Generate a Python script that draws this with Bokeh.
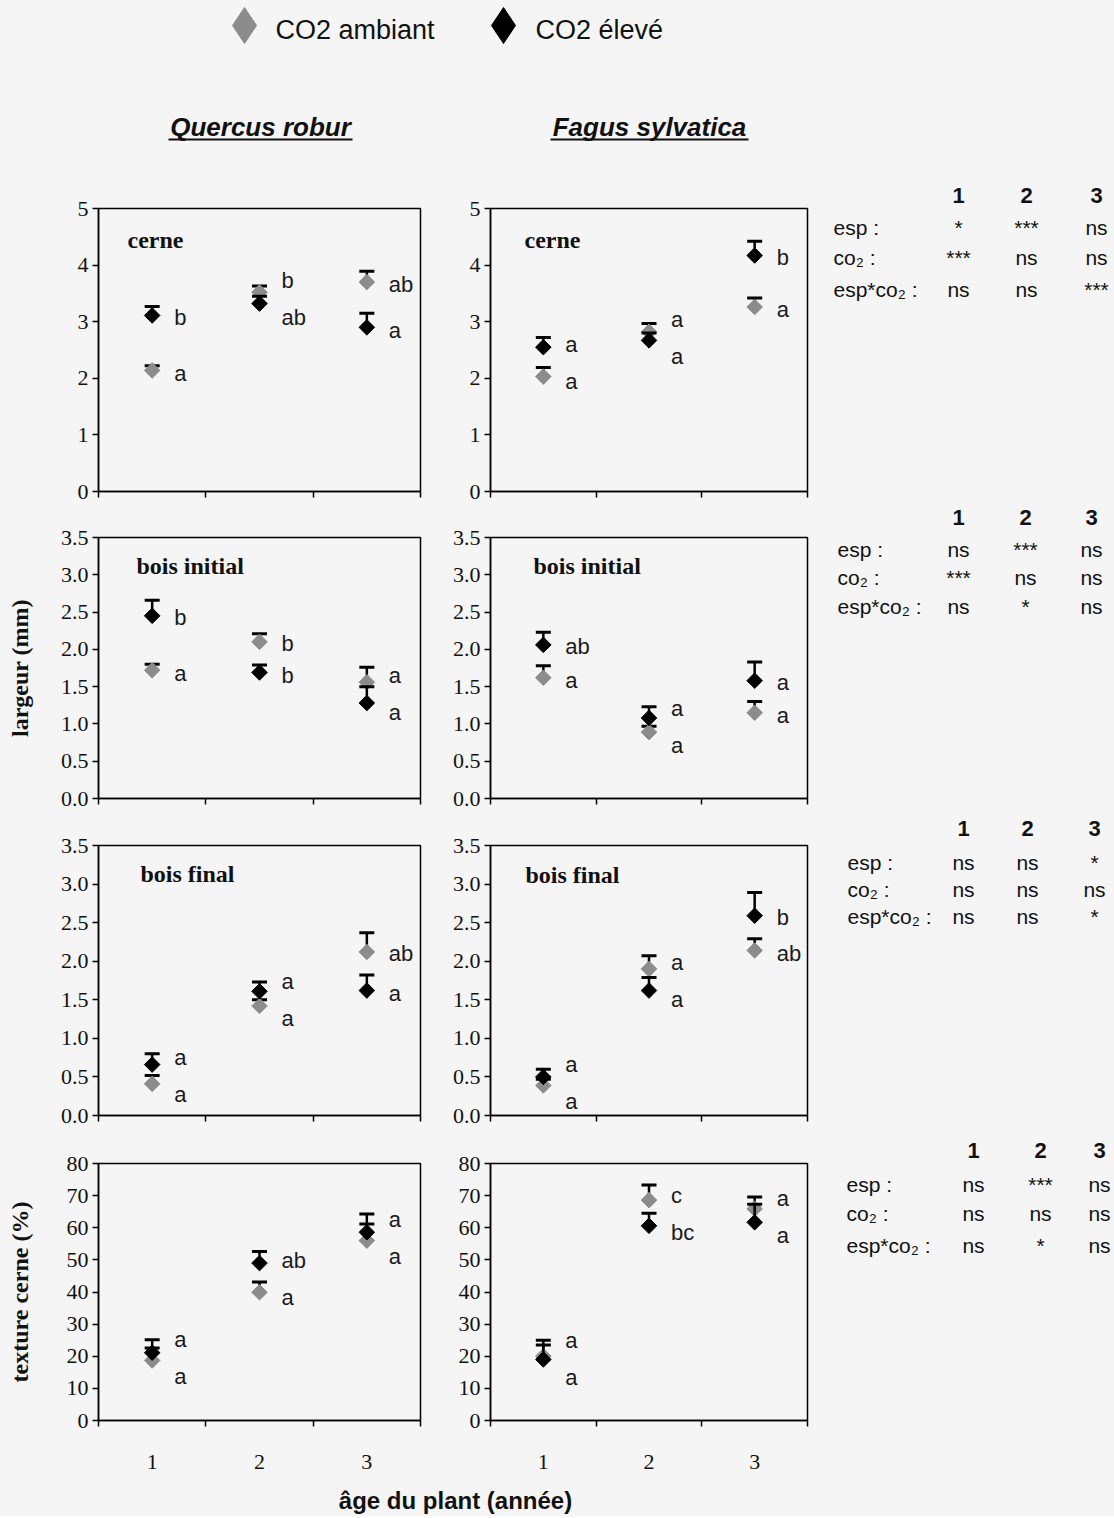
import numpy as np
from bokeh.plotting import figure
from bokeh.models import Range1d, FixedTicker, Label, ColumnDataSource, PrintfTickFormatter
from bokeh.layouts import row, column
from bokeh.embed import file_html
from bokeh.resources import INLINE
from bokeh.core.properties import value

# ---------------- data ----------------
years = [1, 2, 3]
year_labels = ["1", "2", "3"]

# Quercus robur - cerne
q_cerne_amb = [2.14, 3.52, 3.70]
q_cerne_amb_err = [0.08, 0.11, 0.19]
q_cerne_ele = [3.11, 3.32, 2.90]
q_cerne_ele_err = [0.16, 0.13, 0.25]
q_cerne_amb_let = ["a", "b", "ab"]
q_cerne_ele_let = ["b", "ab", "a"]

# Fagus sylvatica - cerne
f_cerne_amb = [2.03, 2.82, 3.26]
f_cerne_amb_err = [0.16, 0.15, 0.16]
f_cerne_ele = [2.55, 2.67, 4.17]
f_cerne_ele_err = [0.17, 0.13, 0.25]
f_cerne_amb_let = ["a", "a", "a"]
f_cerne_ele_let = ["a", "a", "b"]

# bois initial
q_init_amb = [1.72, 2.10, 1.56]
q_init_amb_err = [0.08, 0.11, 0.20]
q_init_ele = [2.45, 1.69, 1.28]
q_init_ele_err = [0.21, 0.10, 0.22]
q_init_amb_let = ["a", "b", "a"]
q_init_ele_let = ["b", "b", "a"]

f_init_amb = [1.62, 0.89, 1.15]
f_init_amb_err = [0.16, 0.08, 0.15]
f_init_ele = [2.06, 1.08, 1.58]
f_init_ele_err = [0.17, 0.15, 0.25]
f_init_amb_let = ["a", "a", "a"]
f_init_ele_let = ["ab", "a", "a"]

# bois final
q_final_amb = [0.41, 1.42, 2.12]
q_final_amb_err = [0.11, 0.08, 0.25]
q_final_ele = [0.66, 1.61, 1.62]
q_final_ele_err = [0.14, 0.12, 0.20]
q_final_amb_let = ["a", "a", "ab"]
q_final_ele_let = ["a", "a", "a"]

f_final_amb = [0.39, 1.90, 2.14]
f_final_amb_err = [0.08, 0.17, 0.15]
f_final_ele = [0.50, 1.62, 2.59]
f_final_ele_err = [0.10, 0.17, 0.30]
f_final_amb_let = ["a", "a", "ab"]
f_final_ele_let = ["a", "a", "b"]

# texture cerne (%)
q_text_amb = [18.7, 39.9, 56.0]
q_text_amb_err = [3.9, 3.2, 5.2]
q_text_ele = [21.1, 49.0, 58.6]
q_text_ele_err = [4.0, 3.6, 5.7]
q_text_amb_let = ["a", "a", "a"]
q_text_ele_let = ["a", "ab", "a"]

f_text_amb = [20.0, 68.6, 65.9]
f_text_amb_err = [3.5, 4.7, 3.7]
f_text_ele = [19.0, 60.6, 61.7]
f_text_ele_err = [6.0, 3.9, 5.6]
f_text_amb_let = ["a", "c", "a"]
f_text_ele_let = ["a", "bc", "a"]

# statistics tables
stat_cols = ["1", "2", "3"]
stat_rows = ["esp :", "co\u2082 :", "esp*co\u2082 :"]
sig_cerne = [["*", "***", "ns"], ["***", "ns", "ns"], ["ns", "ns", "***"]]
sig_init = [["ns", "***", "ns"], ["***", "ns", "ns"], ["ns", "*", "ns"]]
sig_final = [["ns", "ns", "*"], ["ns", "ns", "ns"], ["ns", "ns", "*"]]
sig_text = [["ns", "***", "ns"], ["ns", "ns", "ns"], ["ns", "*", "ns"]]

legend_labels = ["CO2 ambiant", "CO2 \u00e9lev\u00e9"]
species = ["Quercus robur", "Fagus sylvatica"]

# ---------------- style ----------------
BG = "#f5f5f5"
GRAY = "#8c8c8c"
BLACK = "#000000"
SERIF = "Liberation Serif"
SANS = "Liberation Sans"

QW, QL, QR = 430, 98, 10
FW, FL, FR = 390, 60, 13


def panel(width, left, right, height, top, bottom, ymax, yticks, fmt, title,
          title_dx, title_dy, amb, amb_err, ele, ele_err, amb_let, ele_let,
          xlabels=False, ylabel=None, ylabel_standoff=28):
    fw = width - left - right
    fh = height - top - bottom
    p = figure(width=width, height=height, x_range=Range1d(0.5, 3.5),
               y_range=Range1d(0, ymax), output_backend="svg",
               toolbar_location=None, title=None,
               min_border_left=left, min_border_right=right,
               min_border_top=top, min_border_bottom=bottom,
               background_fill_color=BG, border_fill_color=BG,
               outline_line_color="black", outline_line_width=1.5)
    p.grid.visible = False
    ya = p.yaxis[0]
    ya.ticker = FixedTicker(ticks=yticks, minor_ticks=[])
    ya.formatter = PrintfTickFormatter(format=fmt)
    ya.major_tick_out = 6
    ya.major_tick_in = 0
    ya.minor_tick_out = 0
    ya.major_label_standoff = 4
    ya.major_label_text_font = SERIF
    ya.major_label_text_font_size = "22px"
    ya.major_label_text_color = "#111"
    ya.axis_line_width = 1.5
    ya.major_tick_line_width = 1.5
    if ylabel:
        ya.axis_label = ylabel
        ya.axis_label_text_font = SERIF
        ya.axis_label_text_font_style = "bold"
        ya.axis_label_text_font_size = "24px"
        ya.axis_label_standoff = ylabel_standoff
        ya.axis_label_text_color = "#111"
    xa = p.xaxis[0]
    xa.ticker = FixedTicker(ticks=years if xlabels else [], minor_ticks=[0.5, 1.5, 2.5, 3.5])
    if xlabels:
        xa.major_label_overrides = {y: l for y, l in zip(years, year_labels)}
    xa.major_tick_line_color = None
    xa.major_tick_out = 0
    xa.major_tick_in = 0
    xa.minor_tick_out = 6
    xa.minor_tick_in = 0
    xa.minor_tick_line_width = 1.5
    xa.minor_tick_line_color = "black"
    xa.axis_line_width = 1.5
    xa.major_label_standoff = 28
    xa.major_label_text_font = SERIF
    xa.major_label_text_font_size = "22px"
    xa.major_label_text_color = "#111"

    ppu = fh / ymax
    amb = np.array(amb, float)
    ele = np.array(ele, float)
    gap = np.abs(amb - ele) * ppu
    amb_off = []
    ele_off = []
    for g, a, e in zip(gap, amb, ele):
        if g < 30:
            d_up = -(30 - g) / 2 - 2
            d_dn = (30 - g) / 2 + 5
        else:
            d_up, d_dn = 2, 3
        if a >= e:
            amb_off.append(d_up); ele_off.append(d_dn)
        else:
            amb_off.append(d_dn); ele_off.append(d_up)

    for vals, errs, lets, offs, col in ((amb, amb_err, amb_let, amb_off, GRAY),
                                        (ele, ele_err, ele_let, ele_off, BLACK)):
        src = ColumnDataSource(dict(
            x=years, y=list(vals), top=[v + e for v, e in zip(vals, errs)],
            ly=[v - o / ppu for v, o in zip(vals, offs)], let=lets))
        p.segment(x0="x", y0="y", x1="x", y1="top", line_color="black",
                  line_width=2.5, source=src)
        p.scatter(x="x", y="top", marker="dash", size=15, line_color="black",
                  line_width=3, source=src)
        p.scatter(x="x", y="y", marker="square", angle=np.pi / 4, size=11,
                  fill_color=col, line_color=col, source=src)
        p.text(x="x", y="ly", text="let", x_offset=22, text_baseline="middle",
               text_align="left", text_font=value(SANS), text_font_size="22px",
               text_color="#1a1a1a", source=src)

    if title:
        p.add_layout(Label(x=0.5 + title_dx / fw * 3.0, y=ymax - title_dy / fh * ymax,
                           text=title, text_baseline="middle", text_align="left",
                           text_font=SERIF, text_font_style="bold",
                           text_font_size="24px", text_color="#111"))
    return p


def blank(width, height, x0, x1, y0, y1):
    p = figure(width=width, height=height, x_range=Range1d(x0, x1),
               y_range=Range1d(y0, y1), output_backend="svg",
               toolbar_location=None, title=None, x_axis_location=None,
               y_axis_location=None, min_border=0,
               background_fill_color=BG, border_fill_color=BG,
               outline_line_color=None)
    p.grid.visible = False
    return p


# header (legend + species titles), page pixel coordinates
hdr = blank(820, 194, 0, 820, 194, 0)
hdr.scatter(x=[244, 503], y=[25, 25], marker="diamond", size=36,
            fill_color=[GRAY, BLACK], line_color=[GRAY, BLACK])
hdr.text(x=[275, 535], y=[29, 29], text=legend_labels, text_baseline="middle",
         text_align="left", text_font=value(SANS), text_font_size="27px",
         text_color="#111")
hdr.text(x=[260, 649], y=[126, 126], text=species, text_baseline="middle",
         text_align="center", text_font=value(SANS), text_font_style="bold italic",
         text_font_size="26px", text_color="#111")
hdr.segment(x0=[168, 550], y0=[139, 139], x1=[352, 748], y1=[139, 139],
            line_color="#111", line_width=2)

r1q = panel(QW, QL, QR, 329, 14, 32, 5, [0, 1, 2, 3, 4, 5], "%d", "cerne", 29, 31,
            q_cerne_amb, q_cerne_amb_err, q_cerne_ele, q_cerne_ele_err,
            q_cerne_amb_let, q_cerne_ele_let)
r1f = panel(FW, FL, FR, 329, 14, 32, 5, [0, 1, 2, 3, 4, 5], "%d", "cerne", 34, 31,
            f_cerne_amb, f_cerne_amb_err, f_cerne_ele, f_cerne_ele_err,
            f_cerne_amb_let, f_cerne_ele_let)

t35 = [0, 0.5, 1.0, 1.5, 2.0, 2.5, 3.0, 3.5]
r2q = panel(QW, QL, QR, 308, 14, 33, 3.5, t35, "%.1f", "bois initial", 38, 28,
            q_init_amb, q_init_amb_err, q_init_ele, q_init_ele_err,
            q_init_amb_let, q_init_ele_let, ylabel="largeur (mm)", ylabel_standoff=25)
r2f = panel(FW, FL, FR, 308, 14, 33, 3.5, t35, "%.1f", "bois initial", 43, 28,
            f_init_amb, f_init_amb_err, f_init_ele, f_init_ele_err,
            f_init_amb_let, f_init_ele_let)

r3q = panel(QW, QL, QR, 318, 14, 34, 3.5, t35, "%.1f", "bois final", 42, 28,
            q_final_amb, q_final_amb_err, q_final_ele, q_final_ele_err,
            q_final_amb_let, q_final_ele_let)
r3f = panel(FW, FL, FR, 318, 14, 34, 3.5, t35, "%.1f", "bois final", 35, 29,
            f_final_amb, f_final_amb_err, f_final_ele, f_final_ele_err,
            f_final_amb_let, f_final_ele_let)

t80 = [0, 10, 20, 30, 40, 50, 60, 70, 80]
r4q = panel(QW, QL, QR, 328, 14, 57, 80, t80, "%d", "", 30, 30,
            q_text_amb, q_text_amb_err, q_text_ele, q_text_ele_err,
            q_text_amb_let, q_text_ele_let, xlabels=True,
            ylabel="texture cerne (%)", ylabel_standoff=31)
r4f = panel(FW, FL, FR, 328, 14, 57, 80, t80, "%d", "", 30, 30,
            f_text_amb, f_text_amb_err, f_text_ele, f_text_ele_err,
            f_text_amb_let, f_text_ele_let, xlabels=True)

ftr = blank(820, 39, 0, 820, 1516, 1477)
ftr.text(x=[455], y=[1500], text=["\u00e2ge du plant (ann\u00e9e)"], text_baseline="middle",
         text_align="center", text_font=value(SANS), text_font_style="bold",
         text_font_size="24px", text_color="#111")

# statistics column, page pixel coordinates
st = blank(294, 1516, 820, 1114, 1516, 0)
blocks = [
    (sig_cerne, 195, [227, 257, 289], 833, [958, 1026, 1096]),
    (sig_init, 517, [549, 577, 606], 837, [958, 1025, 1091]),
    (sig_final, 828, [862, 889, 916], 847, [963, 1027, 1094]),
    (sig_text, 1150, [1184, 1213, 1245], 846, [973, 1040, 1099]),
]
for sig, hy, rys, lx, cxs in blocks:
    st.text(x=cxs, y=[hy] * 3, text=stat_cols, text_baseline="middle",
            text_align="center", text_font=value(SANS), text_font_style="bold",
            text_font_size="22px", text_color="#111")
    st.text(x=[lx] * 3, y=rys, text=stat_rows, text_baseline="middle",
            text_align="left", text_font=value(SANS), text_font_size="21px",
            text_color="#111")
    xs, ys, ts = [], [], []
    for ri, ry in enumerate(rys):
        for ci, cx in enumerate(cxs):
            xs.append(cx); ys.append(ry); ts.append(sig[ri][ci])
    st.text(x=xs, y=ys, text=ts, text_baseline="middle", text_align="center",
            text_font=value(SANS), text_font_size="21px", text_color="#111")

left = column(hdr, row(r1q, r1f), row(r2q, r2f), row(r3q, r3f), row(r4q, r4f), ftr)
layout = row(left, st)
layout.styles = {"background-color": BG}

open("out.html", "w").write(file_html(layout, INLINE))
